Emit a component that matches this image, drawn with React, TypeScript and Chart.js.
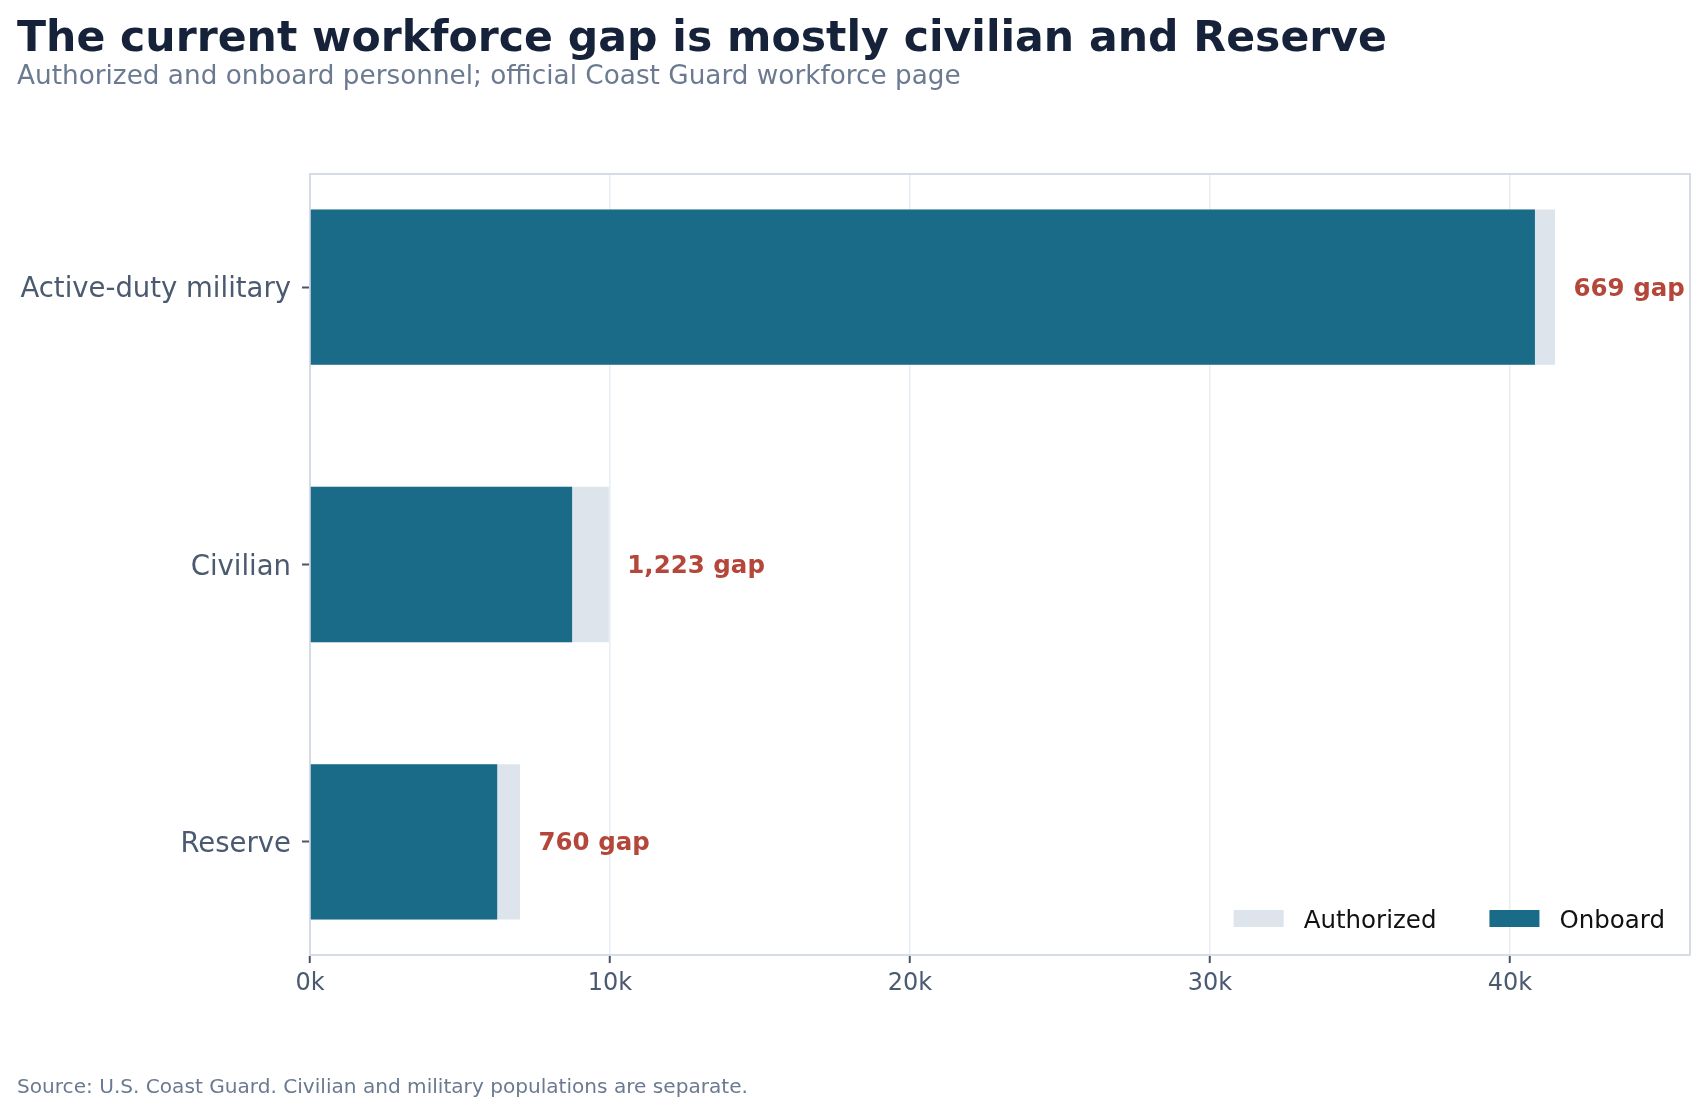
import React, { useEffect, useRef } from "react";
import { Chart, registerables } from "chart.js";

Chart.register(...registerables);

const categories = ["Active-duty military", "Civilian", "Reserve"];
const authorized = [41500, 9960, 7000];
const onboard = [40831, 8737, 6240];
const xTickValues = [0, 10000, 20000, 30000, 40000];
const xMax = 46000;
const seriesLabels = ["Authorized", "Onboard"];

const FONT = "'DejaVu Sans', sans-serif";
const W = 1707;
const H = 1113;

const gapLabelPlugin = {
  id: "gapLabels",
  afterDatasetsDraw(chart: any) {
    const { ctx, scales } = chart;
    const fs = 24.5;
    ctx.save();
    ctx.font = `bold ${fs}px ${FONT}`;
    ctx.fillStyle = "#b5473a";
    ctx.textAlign = "left";
    ctx.textBaseline = "alphabetic";
    categories.forEach((_, i) => {
      const gap = authorized[i] - onboard[i];
      const x = scales.x.getPixelForValue(authorized[i]) + 18.5;
      const y = scales.y.getPixelForValue(i) + 0.35 * fs;
      ctx.fillText(`${gap.toLocaleString("en-US")} gap`, x, y);
    });
    ctx.restore();
  },
};

const frameAndLegendPlugin = {
  id: "frameAndLegend",
  afterDraw(chart: any) {
    const { ctx, chartArea } = chart;
    ctx.save();
    // top and right spines
    ctx.strokeStyle = "#d5dce6";
    ctx.lineWidth = 2;
    ctx.beginPath();
    ctx.moveTo(chartArea.left, chartArea.top);
    ctx.lineTo(chartArea.right, chartArea.top);
    ctx.lineTo(chartArea.right, chartArea.bottom);
    ctx.stroke();

    // legend (lower right, inside the axes)
    const fs = 24.5;
    ctx.font = `${fs}px ${FONT}`;
    const swW = 50;
    const swH = 17;
    const swGap = 20;
    const itemGap = 53;
    const ds = chart.data.datasets;
    const widths = ds.map((d: any) => swW + swGap + ctx.measureText(d.label).width);
    let x = chartArea.right - 25 - widths.reduce((a: number, b: number) => a + b, 0) - itemGap * (ds.length - 1);
    const cy = chartArea.bottom - 36.5;
    ds.forEach((d: any, i: number) => {
      ctx.fillStyle = d.backgroundColor;
      ctx.fillRect(x, cy - swH / 2, swW, swH);
      ctx.fillStyle = "#111111";
      ctx.textAlign = "left";
      ctx.textBaseline = "alphabetic";
      ctx.fillText(d.label, x + swW + swGap, chartArea.bottom - 27.3);
      x += widths[i] + itemGap;
    });
    ctx.restore();
  },
};

function BarChart() {
  const ref = useRef<HTMLCanvasElement | null>(null);
  useEffect(() => {
    if (!ref.current) return;
    const chart = new Chart(ref.current, {
      type: "bar",
      data: {
        datasets: [
          {
            label: seriesLabels[0],
            data: authorized.map((v, i) => ({ x: v, y: i })),
            backgroundColor: "#dde4ec",
            borderWidth: 0,
            grouped: false,
            order: 2,
            barPercentage: 0.56,
            categoryPercentage: 1,
          },
          {
            label: seriesLabels[1],
            data: onboard.map((v, i) => ({ x: v, y: i })),
            backgroundColor: "#196b87",
            borderWidth: 0,
            grouped: false,
            order: 1,
            barPercentage: 0.56,
            categoryPercentage: 1,
          },
        ],
      } as any,
      options: {
        indexAxis: "y",
        animation: false,
        responsive: false,
        devicePixelRatio: 1,
        layout: { padding: { top: 174, right: 17, left: 0, bottom: 0 } },
        plugins: {
          legend: { display: false },
          tooltip: { enabled: false },
          title: { display: false },
        },
        scales: {
          x: {
            type: "linear",
            min: 0,
            max: xMax,
            afterBuildTicks: (s: any) => {
              s.ticks = xTickValues.map((v) => ({ value: v }));
            },
            afterFit: (s: any) => {
              s.height = H - 955;
            },
            ticks: {
              callback: (v: any) => `${Math.round(Number(v) / 1000)}k`,
              color: "#4b5a70",
              font: { family: FONT, size: 24 },
              padding: 6,
              maxRotation: 0,
            },
            grid: {
              color: "#e8edf3",
              lineWidth: 1.5,
              tickColor: "#4a5568",
              tickWidth: 2,
              tickLength: 8,
            },
            border: { color: "#d5dce6", width: 2 },
          },
          y: {
            type: "linear",
            min: -0.408,
            max: 2.408,
            reverse: true,
            offset: false,
            afterBuildTicks: (s: any) => {
              s.ticks = categories.map((_, i) => ({ value: i }));
            },
            afterFit: (s: any) => {
              s.width = 310;
            },
            ticks: {
              callback: (v: any) => categories[Math.round(Number(v))] ?? "",
              color: "#4b5a70",
              font: { family: FONT, size: 27.5 },
              padding: 11,
              labelOffset: 3,
            },
            grid: {
              offset: false,
              drawOnChartArea: false,
              color: "rgba(0,0,0,0)",
              tickColor: "#4a5568",
              tickWidth: 2,
              tickLength: 8,
            },
            border: { color: "#d5dce6", width: 2 },
          },
        },
      } as any,
      plugins: [gapLabelPlugin, frameAndLegendPlugin],
    });
    return () => chart.destroy();
  }, []);
  return <canvas ref={ref} width={W} height={H} style={{ position: "absolute", left: 0, top: 0 }} />;
}

export default function App() {
  const textBase: React.CSSProperties = {
    position: "absolute",
    left: 17,
    margin: 0,
    lineHeight: 1,
    fontFamily: FONT,
    whiteSpace: "nowrap",
  };
  return (
    <div style={{ position: "absolute", left: 0, top: 0, width: W, height: H, background: "#ffffff", overflow: "hidden" }}>
      <BarChart />
      <div style={{ ...textBase, top: 15.2, fontSize: 42.6, fontWeight: "bold", color: "#16213a" }}>
        The current workforce gap is mostly civilian and Reserve
      </div>
      <div style={{ ...textBase, top: 61.8, fontSize: 26.3, color: "#6b7a90" }}>
        Authorized and onboard personnel; official Coast Guard workforce page
      </div>
      <div style={{ ...textBase, top: 1076, fontSize: 20.1, color: "#6b7a90" }}>
        Source: U.S. Coast Guard. Civilian and military populations are separate.
      </div>
    </div>
  );
}
